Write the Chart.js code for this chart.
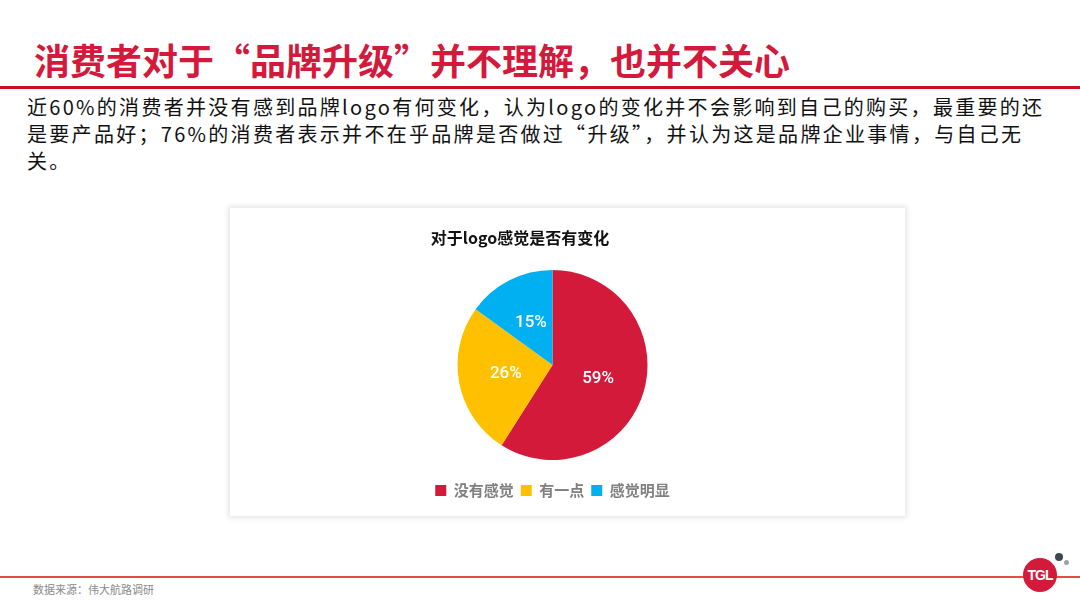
<!DOCTYPE html>
<html><head><meta charset="utf-8">
<script src="https://cdn.jsdelivr.net/npm/chart.js@4/dist/chart.umd.min.js"></script>
<style>
html,body{margin:0;padding:0;background:#fff;}
body{width:1080px;height:608px;position:relative;overflow:hidden;font-family:"Noto Sans CJK SC","Noto Sans",sans-serif;}
#title{position:absolute;left:34px;top:37px;font-size:36px;font-weight:bold;color:#d41a3c;white-space:nowrap;line-height:44px;}
#hline{position:absolute;left:0;top:86px;width:1080px;height:3px;background:#c8101e;}
.body{position:absolute;left:27px;font-size:20px;color:#111;white-space:nowrap;line-height:27px;letter-spacing:2.3px;}
#card{position:absolute;left:230px;top:208px;width:675px;height:308px;background:#fff;box-shadow:0 0 5px 2px rgba(0,0,0,0.10);}
#card canvas{position:absolute;left:0;top:0;}
#fline{position:absolute;left:0;top:576px;width:1080px;height:1.5px;background:#e34b4b;}
#src{position:absolute;left:33px;top:581px;font-size:11px;color:#8a8a8a;white-space:nowrap;line-height:16px;}
#logo{position:absolute;left:1023px;top:558px;width:34px;height:34px;border-radius:50%;background:#d41a3c;color:#fff;font:bold 14px "Liberation Sans",sans-serif;text-align:center;line-height:34px;letter-spacing:-1px;}
.dot{position:absolute;border-radius:50%;}
</style></head>
<body>
<div id="title">消费者对于“品牌升级”并不理解，也并不关心</div>
<div id="hline"></div>
<div class="body" style="top:93px">近60%的消费者并没有感到品牌logo有何变化，认为logo的变化并不会影响到自己的购买，最重要的还</div>
<div class="body" style="top:120px">是要产品好；76%的消费者表示并不在乎品牌是否做过“升级”，并认为这是品牌企业事情，与自己无</div>
<div class="body" style="top:147px">关。</div>
<div id="card"><canvas id="c" width="675" height="308"></canvas></div>
<div id="fline"></div>
<div id="src">数据来源：伟大航路调研</div>
<div id="logo">TGL</div>
<div class="dot" style="left:1055px;top:553px;width:8px;height:8px;background:#3d4752;"></div>
<div class="dot" style="left:1064px;top:560px;width:5px;height:5px;background:#9aa3ad;"></div>
<script>
const chartTitle = "对于logo感觉是否有变化";
const categories = ["没有感觉", "有一点", "感觉明显"];
const values = [59, 26, 15];
const colors = ["#d31a3a", "#ffc000", "#00b0f0"];

const labelPlugin = {
  id: 'sliceLabels',
  afterDatasetsDraw(chart) {
    const ctx = chart.ctx;
    const meta = chart.getDatasetMeta(0);
    ctx.save();
    ctx.fillStyle = '#fff';
    ctx.font = '500 17px Roboto, "Noto Sans", sans-serif';
    ctx.textAlign = 'center';
    ctx.textBaseline = 'middle';
    meta.data.forEach((arc, i) => {
      const p = arc.getProps(['x','y','startAngle','endAngle','outerRadius'], true);
      const a = (p.startAngle + p.endAngle) / 2;
      const r = p.outerRadius * 0.5;
      ctx.fillText(values[i] + '%', p.x + Math.cos(a) * r, p.y + Math.sin(a) * r);
    });
    ctx.restore();
  }
};
const titlePlugin = {
  id: 'leftTitle',
  afterDraw(chart) {
    const ctx = chart.ctx;
    ctx.save();
    ctx.fillStyle = '#111';
    ctx.font = 'bold 16px "Noto Sans CJK SC", sans-serif';
    ctx.textAlign = 'center';
    ctx.textBaseline = 'middle';
    ctx.fillText(chartTitle, 290, 30);
    ctx.restore();
  }
};

new Chart(document.getElementById('c'), {
  type: 'pie',
  data: {
    labels: categories,
    datasets: [{ data: values, backgroundColor: colors, borderWidth: 0, radius: 95 }]
  },
  options: {
    responsive: false,
    animation: false,
    layout: { padding: { top: 46, left: 0, right: 30, bottom: 8 } },
    plugins: {
      legend: {
        position: 'bottom',
        labels: {
          boxWidth: 11, boxHeight: 11, padding: 7,
          color: '#7f7f7f',
          font: { size: 15, weight: 'bold', family: '"Noto Sans CJK SC", sans-serif' }
        }
      },
      tooltip: { enabled: false }
    }
  },
  plugins: [labelPlugin, titlePlugin]
});
</script>
</body></html>
